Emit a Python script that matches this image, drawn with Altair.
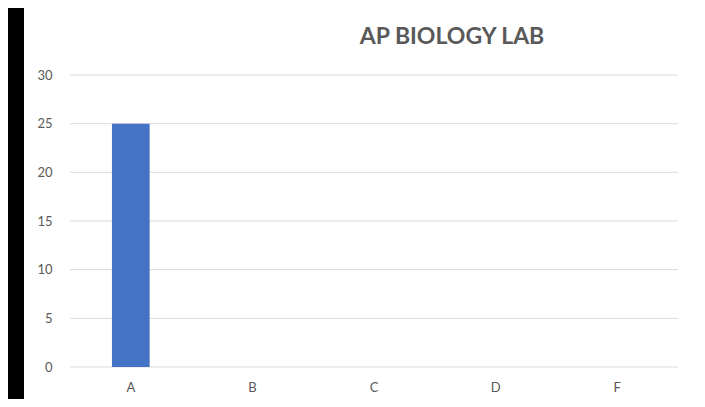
import altair as alt
import pandas as pd

categories = ["A", "B", "C", "D", "F"]
values = [25, 0, 0, 0, 0]
y_ticks = [0, 5, 10, 15, 20, 25, 30]

df = pd.DataFrame({"grade": categories, "count": values})
grid_df = pd.DataFrame({"tick": y_ticks})

W, H = 608, 292
PAD_L, PAD_T, PAD_R, PAD_B = 62, 67, 19, 32

y_axis = alt.Axis(title=None, values=y_ticks, grid=False, domain=False, ticks=False,
                  labelPadding=18, labelFontSize=13, labelColor="#595959",
                  labelFont="Lato", zindex=1)
y_scale = alt.Scale(domain=[0, 30])

# white panel inside the black frame
panel = alt.Chart(pd.DataFrame({"p": [0]})).mark_rect(color="white").encode(
    x=alt.value(-46), x2=alt.value(W + PAD_R), y=alt.value(-PAD_T), y2=alt.value(H + PAD_B)
)

grid = alt.Chart(grid_df).mark_rule(color="#d9d9d9", strokeWidth=1).encode(
    y=alt.Y("tick:Q", scale=y_scale, axis=y_axis)
)

bars = alt.Chart(df).mark_bar(color="#4472C4", width=alt.RelativeBandSize(0.31)).encode(
    x=alt.X("grade:N", sort=categories,
            scale=alt.Scale(paddingInner=0, paddingOuter=0),
            axis=alt.Axis(title=None, labelAngle=0, domain=False, ticks=False,
                          labelPadding=14, labelFontSize=13, labelColor="#595959",
                          labelFont="Lato", zindex=1)),
    y=alt.Y("count:Q", scale=y_scale, axis=y_axis),
)

chart = alt.layer(panel, grid, bars).properties(
    width=W, height=H,
    title=alt.TitleParams("AP BIOLOGY LAB", anchor="middle", frame="group", dx=78, dy=59,
                          font="Lato", fontSize=23, fontWeight="bold", color="#595959",
                          baseline="alphabetic", offset=0),
    autosize=alt.AutoSizeParams(type="none"),
    padding={"left": PAD_L, "top": PAD_T, "right": PAD_R, "bottom": PAD_B},
).configure(background="black").configure_view(stroke=None)

chart.save("out.html", embed_options={"renderer": "svg", "actions": False})
